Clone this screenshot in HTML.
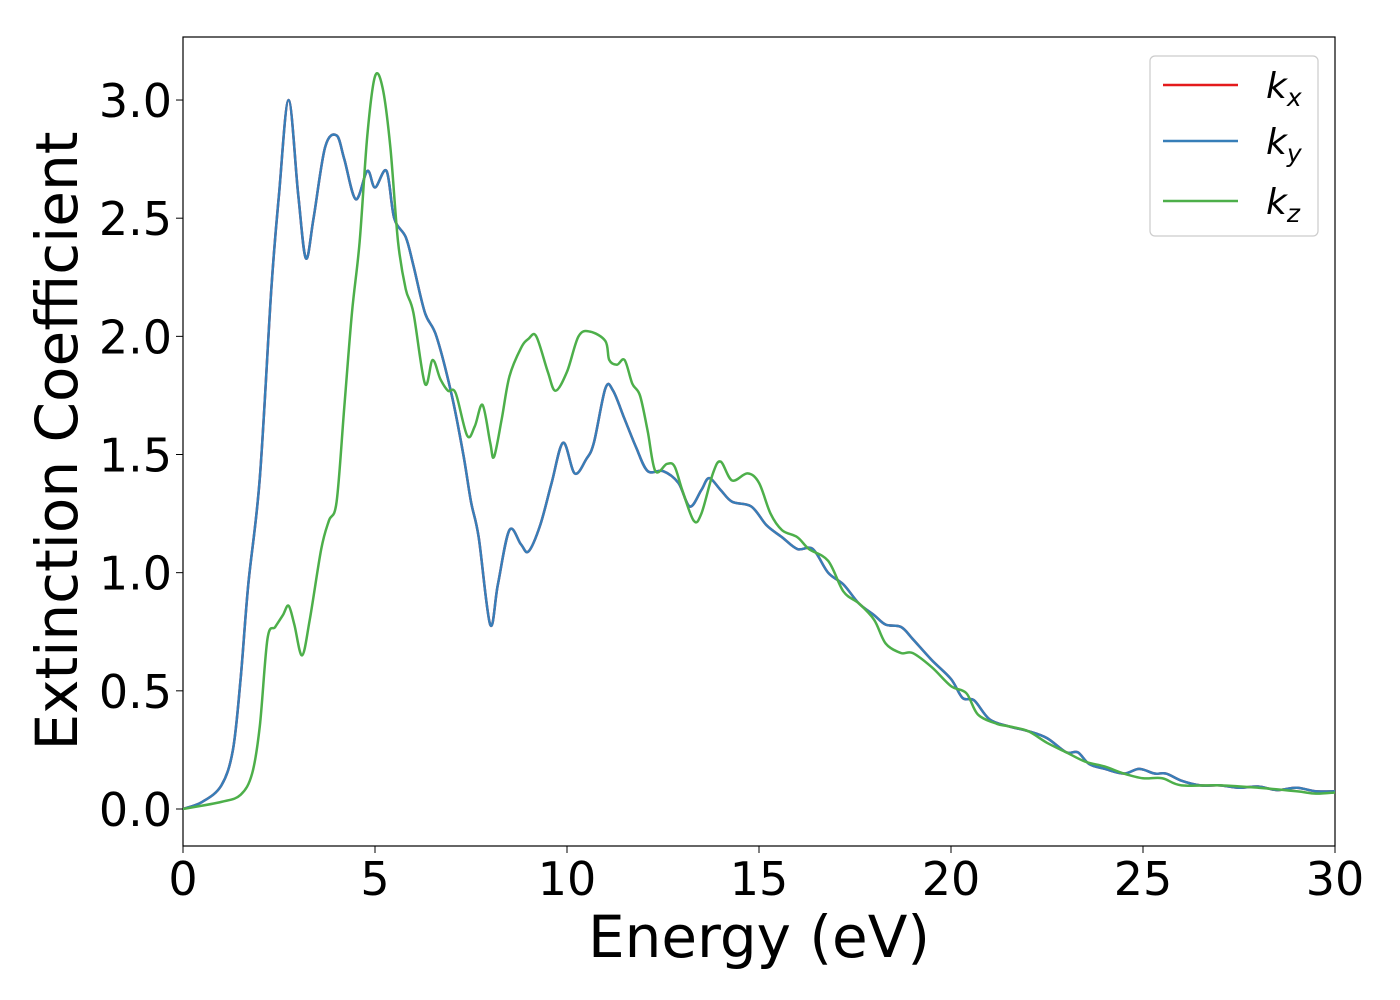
<!DOCTYPE html>
<html><head><meta charset="utf-8"><style>
html,body{margin:0;padding:0;background:#fff;}
svg{display:block;font-family:"DejaVu Sans","Liberation Sans",sans-serif;}
</style></head><body>
<svg id="chart" width="1400" height="1000" viewBox="0 0 1400 1000">
<rect x="183" y="37" width="1152" height="809" fill="#fff" stroke="#000" stroke-width="1.2"/>
<g id="series"></g>
<g id="axes"></g>
<text x="57" y="441" font-size="58" text-anchor="middle" dominant-baseline="central" transform="rotate(-90 57 441)">Extinction Coefficient</text>
<text x="759" y="957" font-size="58" text-anchor="middle">Energy (eV)</text>
<g>
<rect x="1150" y="56" width="168" height="180" rx="5" fill="#fff" stroke="#ccc" stroke-width="1.2"/>
<line x1="1163" y1="85" x2="1238" y2="85" stroke="#e41a1c" stroke-width="2.5"/>
<text x="1266" y="98" font-size="36" font-style="italic">k<tspan font-size="25" dy="8">x</tspan></text>
<line x1="1163" y1="141" x2="1238" y2="141" stroke="#377eb8" stroke-width="2.5"/>
<text x="1266" y="154" font-size="36" font-style="italic">k<tspan font-size="25" dy="8">y</tspan></text>
<line x1="1163" y1="201" x2="1238" y2="201" stroke="#4daf4a" stroke-width="2.5"/>
<text x="1266" y="214" font-size="36" font-style="italic">k<tspan font-size="25" dy="8">z</tspan></text>
</g>
</svg>
<script>
const xTicks=[0,5,10,15,20,25,30];
const yTicks=[0.0,0.5,1.0,1.5,2.0,2.5,3.0];
const energyXY=[0,0.5,1,1.3,1.5,1.7,2.0,2.3,2.5,2.75,3.0,3.2,3.4,3.7,4.0,4.2,4.5,4.8,5.0,5.3,5.5,5.8,6.0,6.3,6.6,7.0,7.3,7.5,7.7,8.0,8.2,8.5,8.8,9.0,9.3,9.6,9.9,10.2,10.5,10.7,11.0,11.2,11.5,11.8,12.1,12.5,12.9,13.2,13.5,13.7,14.0,14.3,14.8,15.2,15.6,16.0,16.4,16.8,17.2,17.6,18.0,18.3,18.7,19.0,19.5,20.0,20.3,20.6,21.0,21.5,22.0,22.5,23.0,23.3,23.6,24.0,24.5,24.9,25.3,25.6,26.0,26.5,27.0,27.5,28.0,28.5,29.0,29.5,30];
const kx=[0,0.03,0.1,0.25,0.55,0.95,1.4,2.2,2.6,3.0,2.6,2.33,2.5,2.8,2.85,2.75,2.58,2.7,2.63,2.7,2.5,2.42,2.3,2.1,2.0,1.75,1.5,1.3,1.15,0.78,0.95,1.18,1.12,1.09,1.2,1.38,1.55,1.42,1.48,1.55,1.78,1.77,1.65,1.53,1.43,1.43,1.38,1.28,1.35,1.4,1.35,1.30,1.28,1.2,1.15,1.1,1.1,1.0,0.95,0.87,0.82,0.78,0.77,0.72,0.63,0.55,0.47,0.46,0.38,0.35,0.33,0.3,0.24,0.24,0.19,0.17,0.15,0.17,0.15,0.15,0.12,0.1,0.1,0.09,0.095,0.08,0.09,0.075,0.075];
const ky=kx.slice();
const energyZ=[0,1,1.5,1.8,2.0,2.2,2.4,2.6,2.75,2.9,3.1,3.3,3.6,3.8,4.0,4.2,4.4,4.6,4.8,5.0,5.2,5.4,5.6,5.8,6.0,6.3,6.5,6.7,6.9,7.1,7.4,7.6,7.8,8.0,8.1,8.3,8.5,8.8,9.0,9.2,9.5,9.7,10.0,10.3,10.6,11.0,11.1,11.3,11.5,11.7,11.9,12.1,12.3,12.6,12.8,13.0,13.3,13.5,13.8,14.0,14.3,14.7,15.0,15.3,15.6,16.0,16.3,16.8,17.2,17.6,18.0,18.3,18.7,19.0,19.5,20.0,20.4,20.7,21.2,21.5,22.0,22.5,23.0,23.5,24.0,24.5,25.0,25.5,26.0,27.0,28.0,29.0,29.5,30];
const kz=[0,0.03,0.06,0.15,0.35,0.72,0.77,0.82,0.86,0.78,0.65,0.8,1.1,1.22,1.3,1.7,2.1,2.4,2.85,3.1,3.05,2.8,2.4,2.2,2.1,1.8,1.9,1.82,1.77,1.76,1.58,1.62,1.71,1.55,1.49,1.65,1.83,1.95,1.99,2.0,1.85,1.77,1.85,2.0,2.02,1.98,1.9,1.88,1.9,1.8,1.75,1.6,1.43,1.46,1.45,1.35,1.22,1.25,1.42,1.47,1.39,1.42,1.38,1.25,1.18,1.15,1.1,1.05,0.92,0.87,0.8,0.7,0.66,0.66,0.6,0.52,0.49,0.4,0.36,0.35,0.33,0.28,0.24,0.2,0.18,0.15,0.13,0.13,0.1,0.1,0.09,0.075,0.065,0.07];

const X0=183,X1=1335,XMIN=0,XMAX=30;
const Y0=846,Y1=37,YMIN=-0.1566,YMAX=3.2667;
function sx(v){return X0+(v-XMIN)/(XMAX-XMIN)*(X1-X0);}
function sy(v){return Y0-(v-YMIN)/(YMAX-YMIN)*(Y0-Y1);}
const NS='http://www.w3.org/2000/svg';
function smoothPath(xs,ys){
  const p=xs.map((x,i)=>[sx(x),sy(ys[i])]);
  let d='M'+p[0][0].toFixed(2)+','+p[0][1].toFixed(2);
  for(let i=0;i<p.length-1;i++){
    const a=p[i>0?i-1:i],b=p[i],c=p[i+1],e=p[i+2<p.length?i+2:i+1];
    const c1=[b[0]+(c[0]-a[0])/6,b[1]+(c[1]-a[1])/6];
    const c2=[c[0]-(e[0]-b[0])/6,c[1]-(e[1]-b[1])/6];
    d+='C'+c1[0].toFixed(2)+','+c1[1].toFixed(2)+' '+c2[0].toFixed(2)+','+c2[1].toFixed(2)+' '+c[0].toFixed(2)+','+c[1].toFixed(2);
  }
  return d;
}
const sg=document.getElementById('series');
const clip=document.createElementNS(NS,'clipPath');clip.setAttribute('id','pc');
const cr=document.createElementNS(NS,'rect');cr.setAttribute('x',X0);cr.setAttribute('y',Y1);cr.setAttribute('width',X1-X0);cr.setAttribute('height',Y0-Y1);
clip.appendChild(cr);document.getElementById('chart').appendChild(clip);
sg.setAttribute('clip-path','url(#pc)');
function addLine(xs,ys,color,name){
  const p=document.createElementNS(NS,'path');
  p.setAttribute('d',smoothPath(xs,ys));
  p.setAttribute('fill','none');p.setAttribute('stroke',color);p.setAttribute('stroke-width','2.5');
  
  
  sg.appendChild(p);
}
addLine(energyXY,kx,'#e41a1c','series-kx');
addLine(energyXY,ky,'#377eb8','series-ky');
addLine(energyZ,kz,'#4daf4a','series-kz');

const ag=document.getElementById('axes');
xTicks.forEach(t=>{
  const l=document.createElementNS(NS,'line');
  l.setAttribute('x1',sx(t));l.setAttribute('x2',sx(t));l.setAttribute('y1',Y0);l.setAttribute('y2',Y0+7);l.setAttribute('stroke','#000');
  
  
  ag.appendChild(l);
  const tx=document.createElementNS(NS,'text');
  tx.setAttribute('x',sx(t));tx.setAttribute('y',895);tx.setAttribute('font-size','46');tx.setAttribute('text-anchor','middle');
  tx.textContent=String(t);
  
  
  ag.appendChild(tx);
});
yTicks.forEach(t=>{
  const l=document.createElementNS(NS,'line');
  l.setAttribute('x1',X0-7);l.setAttribute('x2',X0);l.setAttribute('y1',sy(t));l.setAttribute('y2',sy(t));l.setAttribute('stroke','#000');
  
  
  ag.appendChild(l);
  const tx=document.createElementNS(NS,'text');
  tx.setAttribute('x',172);tx.setAttribute('y',sy(t)+17);tx.setAttribute('font-size','46');tx.setAttribute('text-anchor','end');
  tx.textContent=t.toFixed(1);
  
  
  ag.appendChild(tx);
});
</script>
</body></html>
